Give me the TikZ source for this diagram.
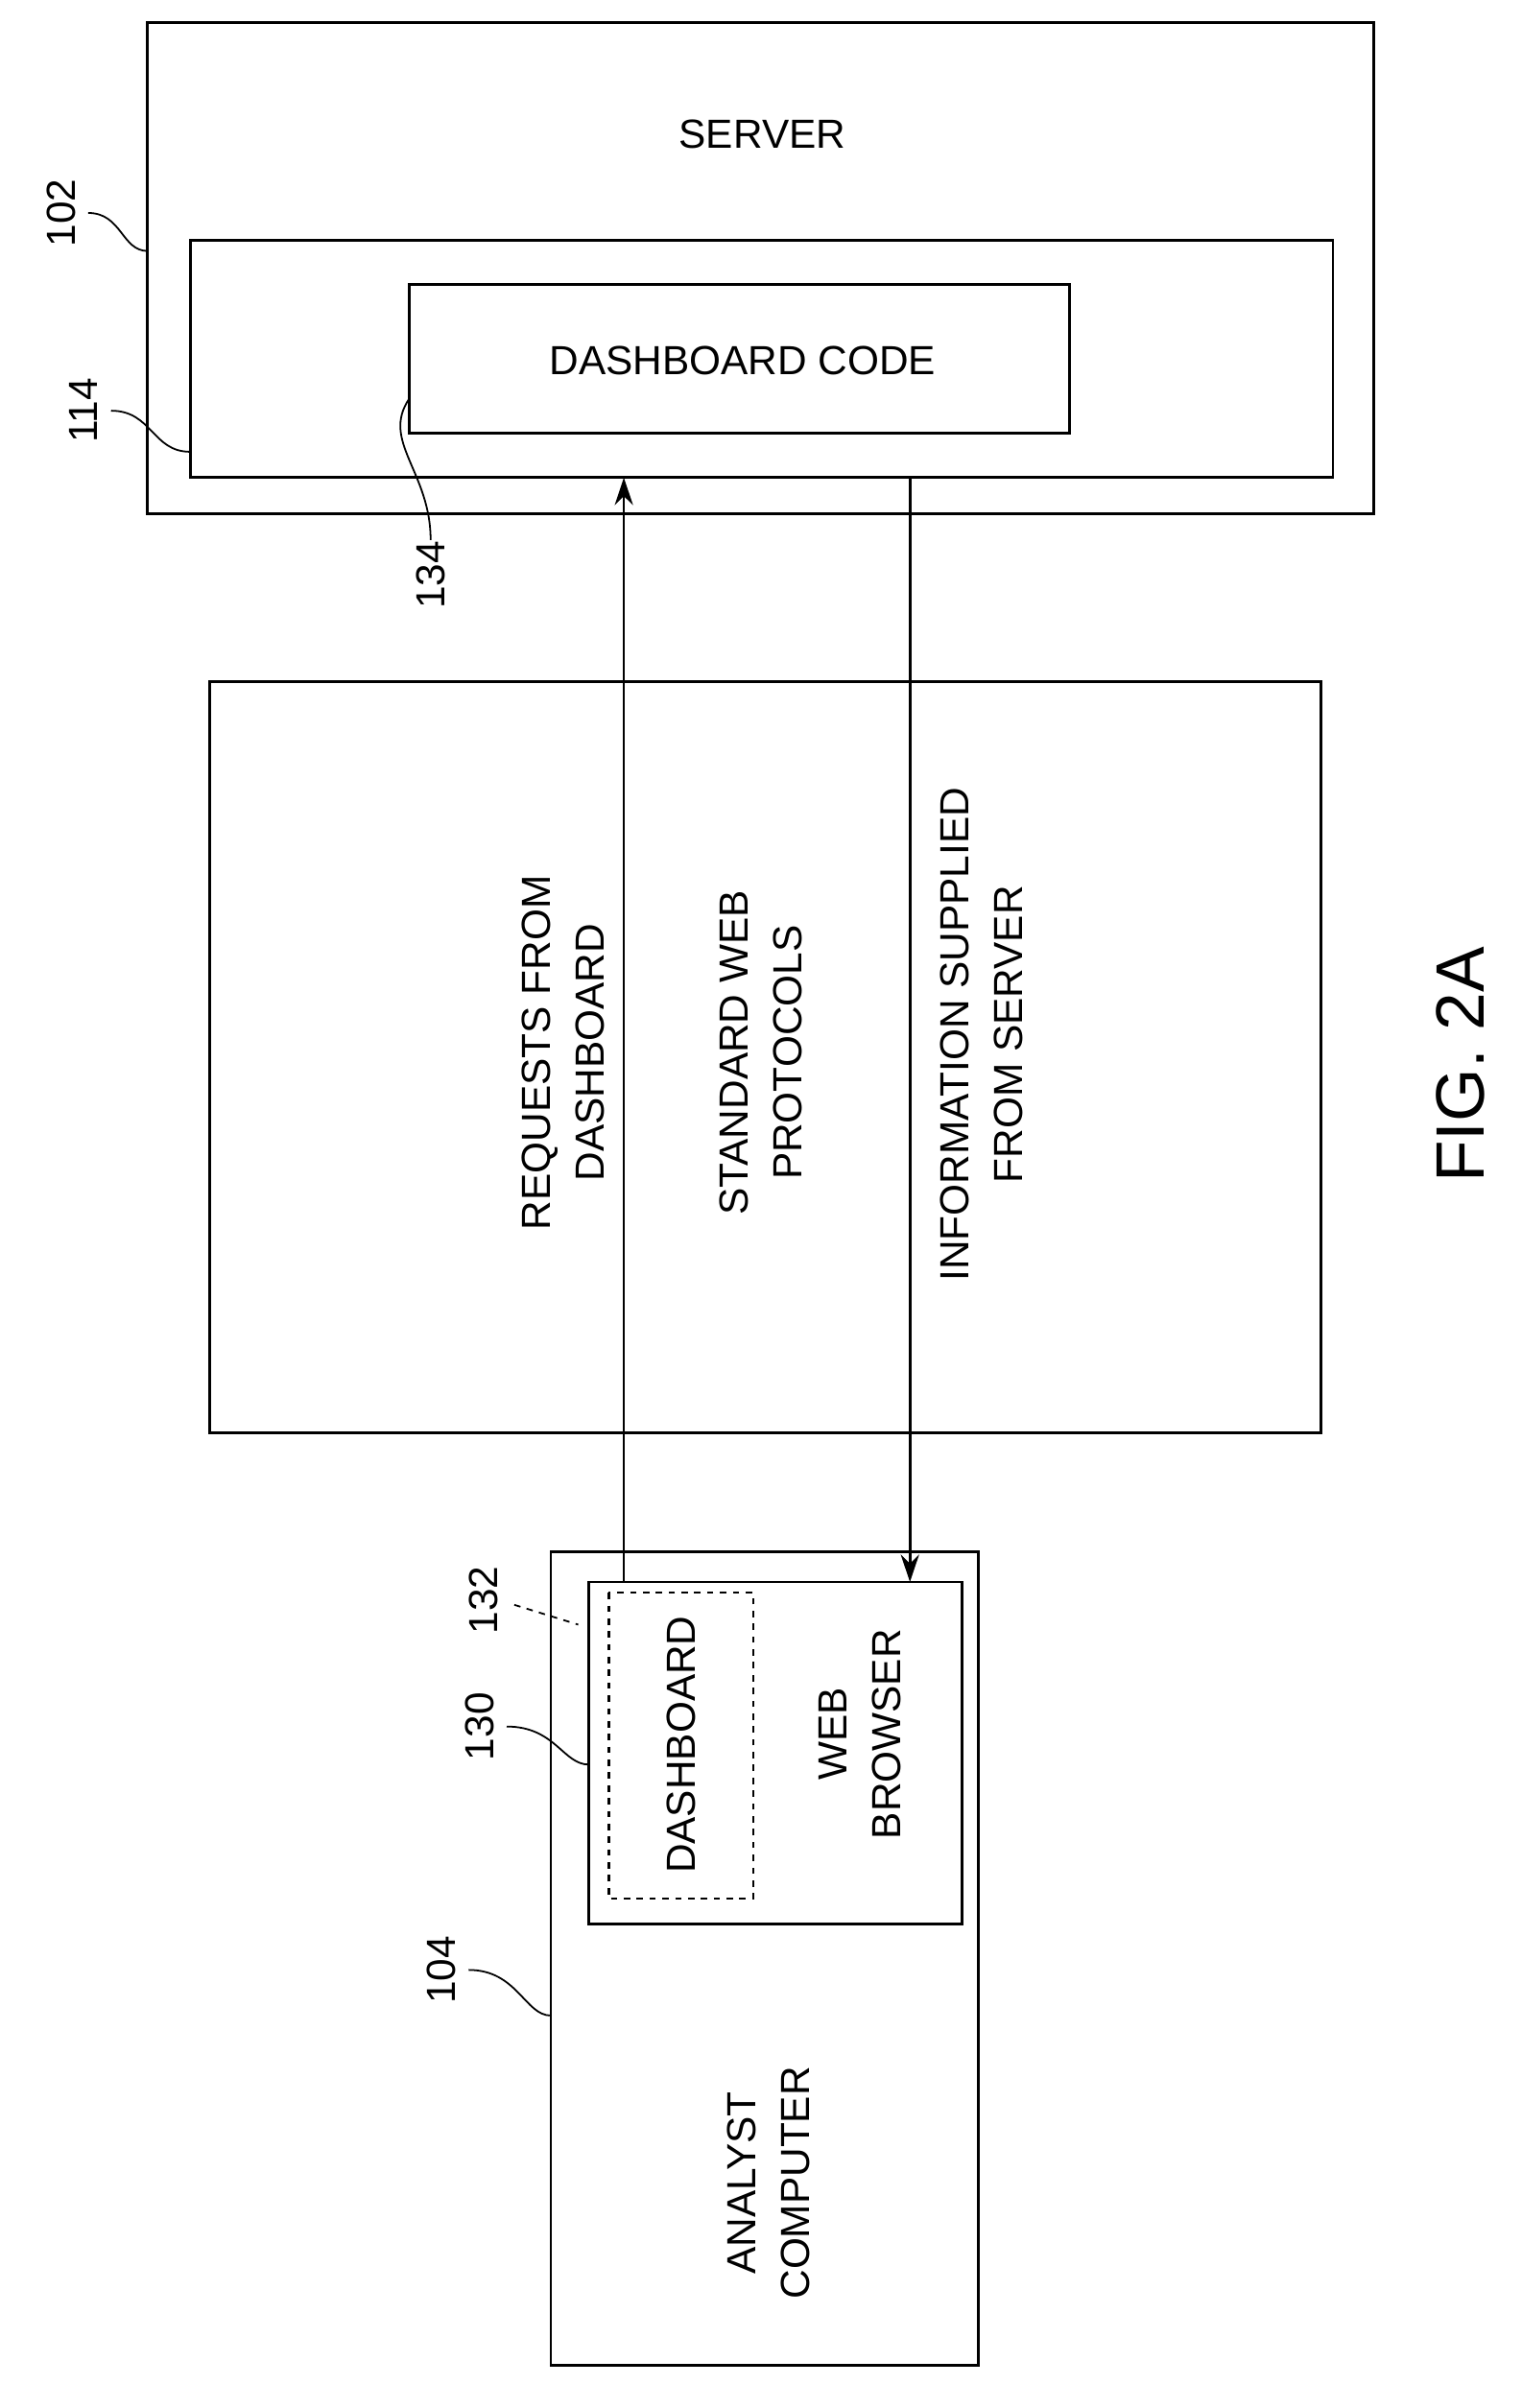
\documentclass[tikz,border=0pt]{standalone}
\usepackage{fontspec}
\setmainfont{Liberation Sans}
\usetikzlibrary{arrows, arrows.meta, positioning}
\begin{document}
\begin{tikzpicture}[
            x = 0.025cm, y = -0.025cm,
            > = {Stealth[length=4.5mm, width=3mm]},
            line width = 1.2pt,
            font = \fontsize{19}{25}\selectfont
        ]

        \tikzstyle{box}=[draw = black, line width = 1.3pt]
        \tikzstyle{vtext}=[rotate = 90, align = center]
        \tikzstyle{leader}=[line width = 0.8pt]

        \useasboundingbox (0,0) rectangle (1000,1583);

        % server side
        \draw[box] (97,15) rectangle (903,338);
        \node (server) at (501,88) {SERVER};
        \draw[box] (125,158) rectangle (876,314);
        \coordinate (mem) at (410,314);
        \coordinate (memout) at (598,314);
        \draw[box] (269,187) rectangle (703,285);
        \node (code) at (488,237) {DASHBOARD CODE};

        \node[vtext] (l102) at (40,140) {102};
        \draw[leader] (58,140) .. controls (80,140) and (80,165) .. (97,165);
        \node[vtext] (l114) at (55,270) {114};
        \draw[leader] (73,270) .. controls (100,270) and (100,297) .. (125,297);
        \node[vtext] (l134) at (283,378) {134};
        \draw[leader] (283,355) .. controls (283,310) and (250,290) .. (269,262);

        % protocols
        \draw[box] (138,448) rectangle (868,942);
        \node[vtext] (req) at (370,692) {REQUESTS FROM\\DASHBOARD};
        \node[vtext] (std) at (500,692) {STANDARD WEB\\PROTOCOLS};
        \node[vtext] (info) at (645,680) {INFORMATION SUPPLIED\\FROM SERVER};

        % analyst side
        \draw[box] (362,1020) rectangle (643,1555);
        \draw[box] (387,1040) rectangle (632,1265);
        \coordinate (dash) at (410,1040);
        \coordinate (browser) at (598,1040);
        \draw[line width = 1.2pt, dashed] (400,1047) rectangle (495,1248);
        \node[vtext] (dashb) at (448,1147) {DASHBOARD};
        \node[vtext] (web) at (565,1140) {WEB\\BROWSER};
        \node[vtext] (analyst) at (505,1435) {ANALYST\\COMPUTER};

        \node[vtext] (l132) at (318,1052) {132};
        \draw[leader, dashed] (338,1055) -- (380,1068);
        \node[vtext] (l130) at (315,1135) {130};
        \draw[leader] (333,1135) .. controls (365,1135) and (370,1160) .. (387,1160);
        \node[vtext] (l104) at (290,1295) {104};
        \draw[leader] (308,1295) .. controls (340,1295) and (345,1325) .. (362,1325);

        % flows
        \draw[->] (dash) -- (mem);
        \draw[->] (memout) -- (browser);

        \node[vtext, font=\fontsize{32}{38}\selectfont] (fig) at (960,700) {FIG. 2A};
    \end{tikzpicture}
\end{document}
